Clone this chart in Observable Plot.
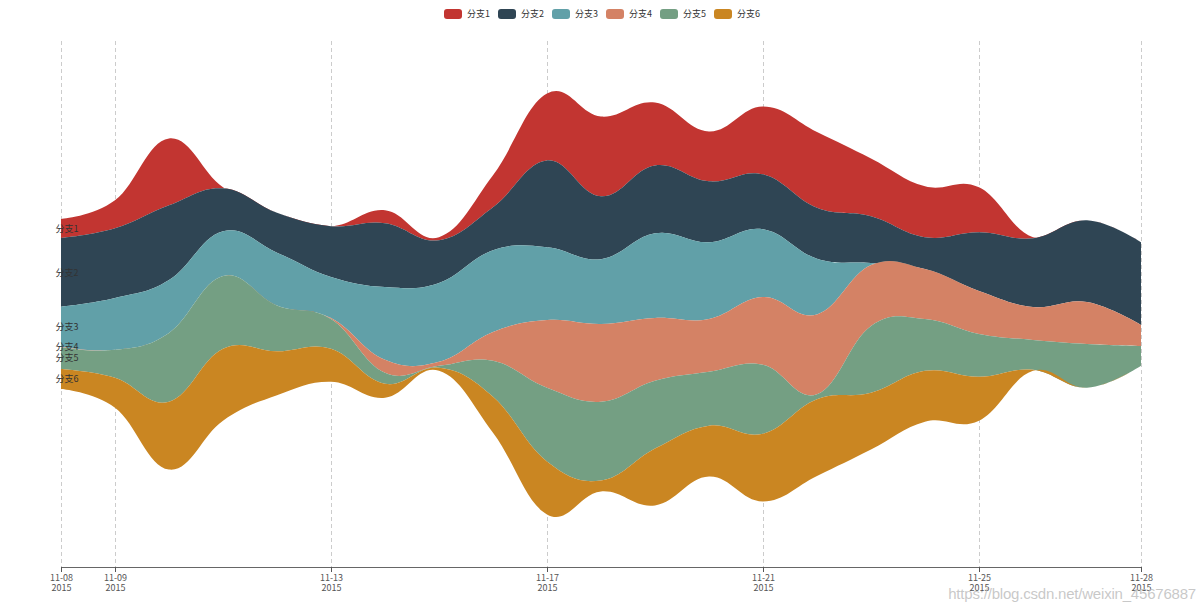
<!DOCTYPE html>
<html>
<head>
<meta charset="utf-8">
<script src="https://cdn.jsdelivr.net/npm/d3@7"></script>
<script src="https://cdn.jsdelivr.net/npm/@observablehq/plot@0.6"></script>
<style>
  html, body { margin: 0; padding: 0; background: #fff; }
  #wrap { position: relative; width: 1204px; height: 614px; overflow: hidden; }
  #legend { position: absolute; top: 9px; left: 0; width: 1204px; display: flex; justify-content: center; gap: 8px;
            font-family: 'Noto Sans CJK SC', sans-serif; font-size: 9px; color: #333; line-height: 10px; }
  .item { display: flex; align-items: center; }
  .sw { width: 18px; height: 10px; border-radius: 3px; margin-right: 5px; }
  #wm { position: absolute; right: 8px; top: 585px; font-family: 'Liberation Sans', Arial, sans-serif; font-size: 15px;
        color: rgba(190,190,190,0.85); letter-spacing: -0.2px; }
</style>
</head>
<body>
<div id="wrap">
  <div id="chart"></div>
  <div id="legend"></div>
  <div id="wm">https://blog.csdn.net/weixin_45676887</div>
</div>
<script>
const dates = ["2015-11-08","2015-11-09","2015-11-10","2015-11-11","2015-11-12","2015-11-13","2015-11-14",
               "2015-11-15","2015-11-16","2015-11-17","2015-11-18","2015-11-19","2015-11-20","2015-11-21",
               "2015-11-22","2015-11-23","2015-11-24","2015-11-25","2015-11-26","2015-11-27","2015-11-28"];
const seriesNames = ["分支1","分支2","分支3","分支4","分支5","分支6"];
const colors = ["#c23531","#2f4554","#61a0a8","#d48265","#749f83","#ca8622"];
const s1 = [19, 28, 67, 1, 0, 0, 13, 3, 32, 67, 80, 63, 50, 68, 76, 58, 51, 45, 1, 0, 0];
const s2 = [69, 70, 75, 43, 40, 51, 64, 43, 43, 87, 63, 68, 61, 55, 51, 47, 32, 59, 69, 82, 83];
const s3 = [40, 52, 53, 45, 53, 41, 73, 79, 82, 73, 65, 85, 77, 68, 56, 2, 0, 0, 0, 0, 0];
const s4 = [0.5, 0, 0, 0, 0, 1, 13, 4, 29, 68, 78, 63, 53, 68, 80, 61, 50, 43, 33, 42, 21];
const s5 = [22, 28, 69, 73, 46, 30, 11, 2, 36, 74, 79, 68, 54, 69, 5, 67, 52, 43, 30, 44, 20];
const s6 = [20, 30, 68, 72, 44, 33, 14, 3, 36, 53, 11, 57, 51, 68, 77, 57, 51, 44, 1, 0, 0];
const tickDates = ["2015-11-08","2015-11-09","2015-11-13","2015-11-17","2015-11-21","2015-11-25","2015-11-28"];

const seriesValues = [s1, s2, s3, s4, s5, s6];
const parse = d3.utcParse("%Y-%m-%d");
const table = [];
seriesNames.forEach((name, k) => {
  dates.forEach((d, i) => table.push({date: parse(d), series: name, value: seriesValues[k][i]}));
});
const totals = dates.map((d, i) => d3.sum(seriesValues, s => s[i]));
const maxTotal = d3.max(totals);
const half = maxTotal / 2 / 0.8; // 10% boundary gap top and bottom
const yDomain = [maxTotal / 2 - half, maxTotal / 2 + half];
const order = seriesNames.slice().reverse();
const firstDate = parse(dates[0]);
const ticks = tickDates.map(parse);
const fmt = d3.utcFormat("%m-%d");

const plot = Plot.plot({
  width: 1204,
  height: 614,
  marginLeft: 61,
  marginRight: 63,
  marginTop: 41,
  marginBottom: 47,
  style: {fontFamily: "'Noto Sans CJK SC', sans-serif", background: "#fff"},
  x: {type: "utc", domain: [parse(dates[0]), parse(dates[dates.length - 1])]},
  y: {domain: yDomain, axis: null},
  color: {domain: seriesNames, range: colors},
  marks: [
    Plot.gridX({ticks, stroke: "#ccc", strokeOpacity: 1, strokeDasharray: "4,3"}),
    Plot.areaY(table, {
      x: "date", y: "value", z: "series", fill: "series",
      order, offset: "center", curve: "cardinal", tension: -0.2
    }),
    Plot.text(table, Plot.stackY({
      x: "date", y: "value", z: "series", order, offset: "center",
      text: d => (+d.date === +firstDate ? d.series : null),
      textAnchor: "start", dx: -6, fontSize: 9, fill: "#333"
    })),
    Plot.ruleY([yDomain[0]], {stroke: "#666", strokeWidth: 1}),
    Plot.axisX({
      ticks, tickSize: 5, tickPadding: 2, fontSize: 9, lineHeight: 1.05, color: "#555",
      tickFormat: d => `${fmt(d)}\n${d.getUTCFullYear()}`, label: null
    })
  ]
});
document.getElementById("chart").appendChild(plot);

const legend = document.getElementById("legend");
seriesNames.forEach((name, k) => {
  const it = document.createElement("div");
  it.className = "item";
  const sw = document.createElement("div");
  sw.className = "sw";
  sw.style.background = colors[k];
  const tx = document.createElement("span");
  tx.textContent = name;
  it.appendChild(sw);
  it.appendChild(tx);
  legend.appendChild(it);
});
</script>
</body>
</html>
